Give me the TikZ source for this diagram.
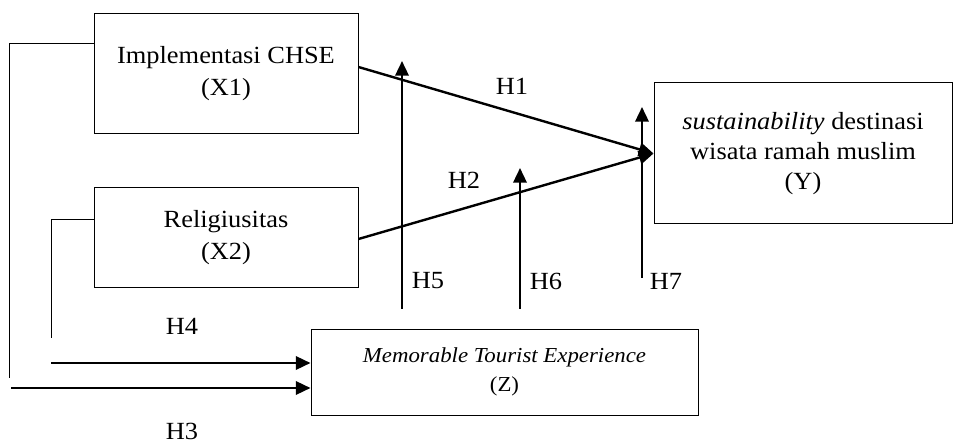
\documentclass[tikz,border=0pt]{standalone}
\usepackage{fontspec}
\setmainfont{Liberation Serif}[FakeStretch=1.07]
\usetikzlibrary{arrows.meta}
\begin{document}
\begin{tikzpicture}[x=0.75pt,y=-0.75pt,
  box/.style={draw,line width=0.75pt,inner sep=0pt,align=center,font=\fontsize{18.5}{24}\selectfont},
  arr/.style={line width=1.8pt,-{Triangle[length=11pt,width=10pt]}},
  thinline/.style={line width=0.75pt},
  lab/.style={font=\fontsize{18.5}{22}\selectfont,inner sep=0pt}]
\useasboundingbox (0,0) rectangle (953,445);
\node[box,minimum width=198pt,minimum height=90pt] (X1) at (226,74) {Implementasi CHSE\\(X1)};
\node[box,minimum width=198pt,minimum height=75pt] (X2) at (226,238) {Religiusitas\\(X2)};
\node[box,minimum width=223.5pt,minimum height=105.75pt,font=\fontsize{18.5}{22.5}\selectfont] (Y) at (803,153.5) {\textit{sustainability} destinasi\\wisata ramah muslim\\(Y)};
\node[box,minimum width=290.25pt,minimum height=64.5pt,font=\fontsize{16}{21.75}\selectfont] (Z) at (504.5,372) {\textit{Memorable Tourist Experience}\\(Z)};
\coordinate (a1) at (9,378);
\coordinate (a3) at (11,388);
\coordinate (b1) at (51,338);
\coordinate (b3) at (51,363);
\coordinate (h5s) at (402,309);
\coordinate (h5e) at (402,61);
\coordinate (h6s) at (520,309);
\coordinate (h6e) at (520,168);
\coordinate (h7s) at (642,278);
\coordinate (h7e) at (642,107);
\draw[thinline] ([yshift=22.5pt]X1.west) -| (a1);
\draw[thinline] ([yshift=13.5pt]X2.west) -| (b1);
\draw[arr] (a3) -- (a3 -| Z.west);
\draw[arr] (b3) -- (b3 -| Z.west);
\draw[arr] ([yshift=5.25pt]X1.east) -- (Y.west);
\draw[arr] ([yshift=-0.75pt]X2.east) -- (Y.west);
\draw[arr] (h5s) -- (h5e);
\draw[arr] (h6s) -- (h6e);
\draw[arr] (h7s) -- (h7e);
\node[lab] (L1) at (512,86) {H1};
\node[lab] (L2) at (464,180) {H2};
\node[lab] (L5) at (428,281) {H5};
\node[lab] (L6) at (546,281) {H6};
\node[lab] (L7) at (666,281) {H7};
\node[lab] (L4) at (182,326) {H4};
\node[lab] (L3) at (182,431) {H3};
\end{tikzpicture}
\end{document}
